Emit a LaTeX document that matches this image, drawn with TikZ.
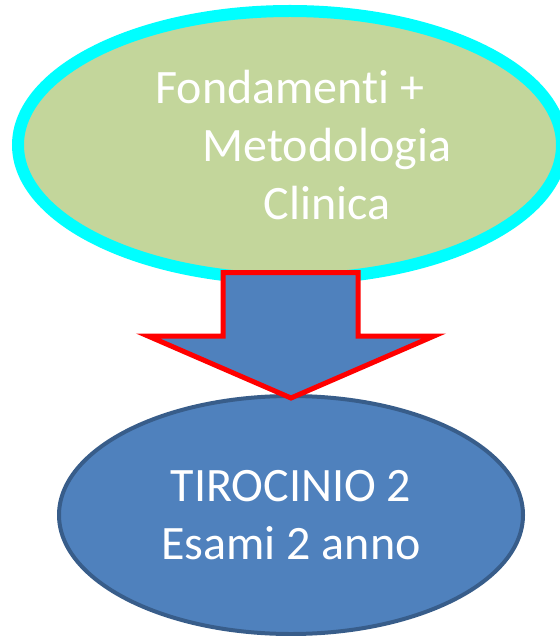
\documentclass[tikz,border=0pt]{standalone}
\usepackage{fontspec}
\setmainfont{Carlito}[Ligatures=NoCommon]
\usepackage{tikz}
\usetikzlibrary{shapes.geometric}

\definecolor{olive}{HTML}{C3D69B}
\definecolor{aqua}{HTML}{00FFFF}
\definecolor{steel}{HTML}{4F81BD}
\definecolor{navyedge}{HTML}{385D8A}

\tikzset{
    blob/.style={ellipse, inner sep=0pt, text=white, align=center,
        font=\fontsize{48}{58}\selectfont},
}

\begin{document}
\begin{tikzpicture}[x=1pt, y=-1pt]
        \useasboundingbox (0,0) rectangle (559,636);

        \node[blob, draw=aqua, fill=olive, line width=12pt,
              minimum width=544pt, minimum height=268pt] (fond) at (290,145)
              {Fondamenti +\\\hspace*{74pt}Metodologia\\\hspace*{74pt}Clinica};

        \node[blob, draw=navyedge, fill=steel, line width=4pt,
              minimum width=464pt, minimum height=238pt] (tiro) at (291,515)
              {TIROCINIO 2\\Esami 2 anno};

        % freccia tra i due blocchi
        \filldraw[draw=red, fill=steel, line width=5pt, line join=miter]
            (223,272.5) -- (358,272.5) -- (358,336) -- (434,336)
            -- (291,398) -- (148,336) -- (223,336) -- cycle;
    \end{tikzpicture}
\end{document}
